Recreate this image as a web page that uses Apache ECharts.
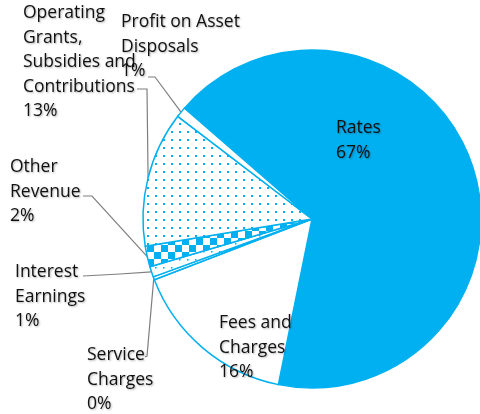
<!DOCTYPE html>
<html>
<head>
<meta charset="utf-8">
<script src="https://cdn.jsdelivr.net/npm/echarts@6/dist/echarts.min.js"></script>
<style>
  html, body { margin: 0; padding: 0; background: #fff; }
  #chart { width: 480px; height: 414px; }
</style>
</head>
<body>
<div id="chart"></div>
<script>
// revenue breakdown, shares in percent (clockwise from Rates)
const categories = [
  'Rates',
  'Fees and\nCharges',
  'Service\nCharges',
  'Interest\nEarnings',
  'Other\nRevenue',
  'Operating\nGrants,\nSubsidies and\nContributions',
  'Profit on Asset\nDisposals'
];
const shares = [67, 16, 0.3, 1, 2, 13, 1];

// label anchors (top-left) and the elbow points of the leader lines
const labelPos = [[336, 116], [219, 311], [87, 343], [15, 260], [10, 155], [23, 1], [121, 10]];
const elbows = [
  null,
  null,
  [[147, 356], [145, 357]],
  [[120, 274], [83, 276]],
  [[92, 196], [83, 196]],
  [[147, 89], [137, 89]],
  [[155, 77], [148, 77]]
];

const BLUE = '#00B0F0';

function makePattern(size, draw) {
  const c = document.createElement('canvas');
  c.width = size; c.height = size;
  const ctx = c.getContext('2d');
  ctx.fillStyle = '#fff';
  ctx.fillRect(0, 0, size, size);
  ctx.fillStyle = BLUE;
  draw(ctx);
  return { image: c, repeat: 'repeat' };
}
const dots = makePattern(8, ctx => ctx.fillRect(3, 3, 2, 2));
const sparseDots = makePattern(8, ctx => ctx.fillRect(3, 3, 1.5, 1.5));
const checker = makePattern(14, ctx => { ctx.fillRect(0, 0, 7, 7); ctx.fillRect(7, 7, 7, 7); });

const fills = [BLUE, '#fff', '#fff', sparseDots, checker, dots, '#fff'];

const chart = echarts.init(document.getElementById('chart'));

const data = categories.map((name, i) => ({
  name: name,
  value: shares[i],
  itemStyle: { color: fills[i] },
  labelLine: { show: elbows[i] !== null }
}));

chart.setOption({
  animation: false,
  series: [{
    type: 'pie',
    center: [312, 219],
    radius: [0, 169],
    startAngle: 139,
    clockwise: true,
    avoidLabelOverlap: false,
    itemStyle: { borderColor: BLUE, borderWidth: 1.5 },
    emphasis: { disabled: true },
    label: {
      show: true,
      position: 'outside',
      fontFamily: 'Open Sans',
      fontSize: 17.5,
      lineHeight: 24.5,
      color: '#111',
      align: 'left',
      textShadowColor: 'rgba(0,0,0,0.3)',
      textShadowBlur: 2,
      textShadowOffsetX: 1,
      textShadowOffsetY: 1,
      formatter: p => p.name + '\n' + Math.round(p.value) + '%'
    },
    labelLine: {
      show: true,
      lineStyle: { color: '#7f7f7f', width: 1.2 }
    },
    labelLayout: function (params) {
      const i = params.dataIndex;
      const out = {
        x: labelPos[i][0],
        y: labelPos[i][1],
        align: 'left',
        verticalAlign: 'top'
      };
      if (elbows[i] && params.labelLinePoints) {
        out.labelLinePoints = [params.labelLinePoints[0]].concat(elbows[i]);
      }
      return out;
    },
    data: data
  }]
});
</script>
</body>
</html>
